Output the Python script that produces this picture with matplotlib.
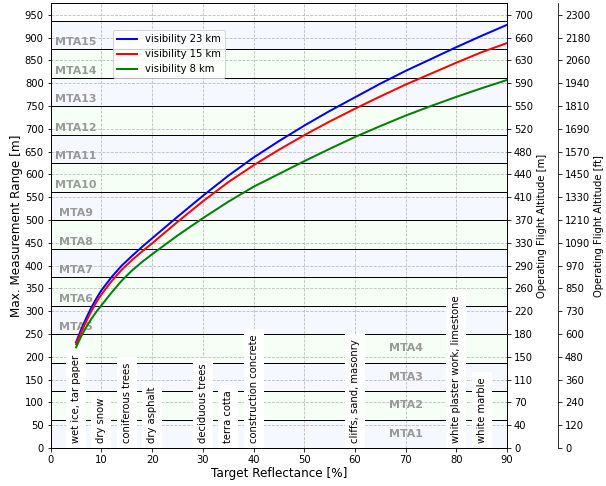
import matplotlib
matplotlib.use("Agg")
import matplotlib.pyplot as plt

# values
reflectance = [5, 6, 7, 8, 9, 10, 12, 14, 16, 18, 20, 25, 30, 35, 40, 45,
               50, 55, 60, 65, 70, 75, 80, 85, 90]
range_23km = [232, 260, 285, 308, 328, 346, 375, 400, 421, 441, 460, 507, 553, 597,
              637, 673, 707, 739, 769, 799, 827, 853, 879, 904, 928]
range_15km = [228, 254, 278, 300, 320, 337, 366, 391, 412, 431, 449, 496, 541, 583,
              620, 654, 686, 716, 744, 771, 797, 821, 845, 868, 888]
range_8km = [221, 245, 265, 283, 299, 313, 341, 367, 389, 408, 425, 466, 504, 540,
             573, 601, 629, 656, 682, 706, 729, 750, 770, 789, 807]

mta_names = ["MTA%d" % i for i in range(1, 16)]
mta_edges = [i * 62.5 for i in range(16)]

materials = ["wet ice, tar paper", "dry snow", "coniferous trees", "dry asphalt",
             "deciduous trees", "terra cotta", "construction concrete",
             "cliffs, sand, masonry", "white plaster work, limestone", "white marble"]
material_x = [5, 10, 15, 20, 30, 35, 40, 60, 80, 85]

range_ticks = list(range(0, 951, 50))
alt_m_labels = ["0", "40", "70", "110", "150", "180", "220", "260", "290", "330",
                "370", "410", "440", "480", "520", "550", "590", "630", "660", "700"]
alt_ft_labels = ["0", "120", "240", "360", "480", "600", "730", "850", "970", "1090",
                 "1210", "1330", "1450", "1570", "1690", "1810", "1940", "2060",
                 "2180", "2300"]

fig = plt.figure(figsize=(606 / 72, 486 / 72), dpi=72)
ax = fig.add_axes([0.0837, 0.078, 0.7529, 0.915])

# MTA zones
for i, name in enumerate(mta_names):
    lo, hi = mta_edges[i], mta_edges[i + 1]
    ax.axhspan(lo, hi, color="#f5f9ff" if i % 2 == 0 else "#f5fff5", zorder=0, lw=0)
    ax.axhline(hi, color="k", lw=1, zorder=2)
    if i < 4:
        ax.text(70, (lo + hi) / 2, name, ha="center", va="center",
                color="#999999", fontweight="bold", fontsize=11, zorder=3)
    else:
        ax.text(5, lo + 15, name, ha="center", va="center",
                color="#999999", fontweight="bold", fontsize=11, zorder=3)

ax.plot(reflectance, range_23km, color="blue", lw=2, label="visibility 23 km", zorder=4)
ax.plot(reflectance, range_15km, color="red", lw=2, label="visibility 15 km", zorder=4)
ax.plot(reflectance, range_8km, color="green", lw=2, label="visibility 8 km", zorder=4)

for name, x in zip(materials, material_x):
    ax.text(x, 12, name, rotation=90, ha="center", va="bottom", fontsize=10,
            bbox=dict(facecolor="white", edgecolor="none", pad=5), zorder=3)

ax.set_xlim(0, 90)
ax.set_ylim(0, 975)
ax.set_xticks(range(0, 91, 10))
ax.set_yticks(range_ticks)
ax.grid(True, ls="--", color="#bbbbbb", lw=0.8)
ax.set_xlabel("Target Reflectance [%]", fontsize=12, labelpad=2)
ax.set_ylabel("Max. Measurement Range [m]", fontsize=12, labelpad=2)
ax.tick_params(labelsize=10)
ax.legend(loc="upper left", bbox_to_anchor=(0.1365, 0.94), borderaxespad=0, fontsize=10)

ax2 = ax.twinx()
ax2.set_ylim(0, 975)
ax2.set_yticks(range_ticks)
ax2.set_yticklabels(alt_m_labels)
ax2.set_ylabel("Operating Flight Altitude [m]", fontsize=10)
ax2.tick_params(labelsize=10)

ax3 = ax.twinx()
ax3.spines["right"].set_position(("outward", 51))
ax3.set_ylim(0, 975)
ax3.set_yticks(range_ticks)
ax3.set_yticklabels(alt_ft_labels)
ax3.set_ylabel("Operating Flight Altitude [ft]", fontsize=10)
ax3.tick_params(labelsize=10)

fig.savefig("out.png", dpi=72)
